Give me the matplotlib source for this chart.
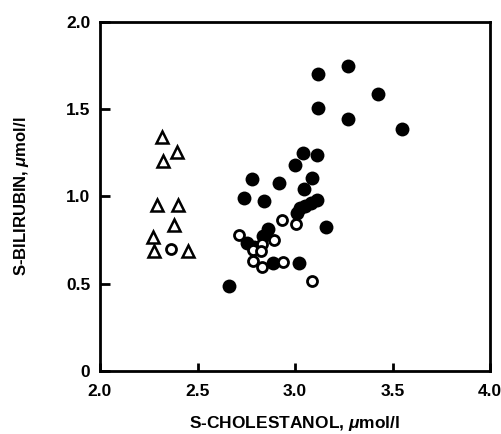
import matplotlib
matplotlib.use("Agg")
import matplotlib.pyplot as plt

plt.rcParams['font.family'] = ['Liberation Sans', 'DejaVu Sans']
plt.rcParams['font.weight'] = 'bold'
plt.rcParams['mathtext.fontset'] = 'custom'
plt.rcParams['mathtext.rm'] = 'Liberation Sans:bold'
plt.rcParams['mathtext.it'] = 'Liberation Sans:italic:bold'
plt.rcParams['mathtext.bf'] = 'Liberation Sans:bold'

# Filled circles
filled_x = [2.662, 2.738, 2.777, 2.843, 2.755, 2.79, 2.838, 2.86, 2.887, 3.018,
            2.917, 3.0, 3.039, 3.111, 3.089, 3.044, 3.12, 3.12, 3.274, 3.274,
            3.424, 3.547, 3.157, 3.009, 3.026, 3.051, 3.08, 3.111]
filled_y = [0.488, 0.991, 1.097, 0.975, 0.735, 0.71, 0.775, 0.815, 0.616, 0.618,
            1.076, 1.177, 1.25, 1.235, 1.107, 1.04, 1.702, 1.504, 1.746, 1.441,
            1.584, 1.382, 0.823, 0.906, 0.93, 0.946, 0.96, 0.976]

# Open circles
open_x = [2.711, 2.935, 3.004, 2.893, 2.829, 2.786, 2.824, 2.783, 2.829, 2.94, 3.088, 2.362]
open_y = [0.78, 0.866, 0.842, 0.749, 0.726, 0.69, 0.688, 0.63, 0.594, 0.625, 0.515, 0.697]

# Open triangles
tri_x = [2.316, 2.393, 2.325, 2.291, 2.398, 2.381, 2.27, 2.277, 2.45]
tri_y = [1.341, 1.251, 1.203, 0.951, 0.951, 0.837, 0.764, 0.688, 0.688]

xticks = [2.0, 2.5, 3.0, 3.5, 4.0]
xticklabels = ["2.0", "2.5", "3.0", "3.5", "4.0"]
yticks = [0, 0.5, 1.0, 1.5, 2.0]
yticklabels = ["0", "0.5", "1.0", "1.5", "2.0"]

fig = plt.figure(figsize=(5.01, 4.34), dpi=100)
ax = fig.add_axes([100/501, 63/434, 390/501, 349.5/434])

ax.plot(filled_x, filled_y, 'o', ms=10, mfc='black', mec='black', mew=0, ls='none', zorder=3)
ax.plot(open_x, open_y, 'o', ms=7.2, mfc='white', mec='black', mew=2.0, ls='none', zorder=4)
ax.plot(tri_x, tri_y, '^', ms=8.0, mfc='white', mec='black', mew=1.8, ls='none', zorder=4)

ax.set_xlim(2.0, 4.0)
ax.set_ylim(0, 2.0)
ax.set_xticks(xticks)
ax.set_xticklabels(xticklabels)
ax.set_yticks(yticks)
ax.set_yticklabels(yticklabels)

for s in ax.spines.values():
    s.set_linewidth(2.0)

ax.tick_params(axis='x', direction='in', length=6, width=2.0, labelsize=12.5, pad=9)
ax.tick_params(axis='y', direction='in', length=7.5, width=2.0, labelsize=12.5, pad=7)
for lab in ax.get_xticklabels() + ax.get_yticklabels():
    lab.set_fontweight('bold')

ax.set_xlabel(r"S-CHOLESTANOL, $\mathit{\mu}$mol/l", fontsize=12.5, fontweight='bold', labelpad=11)
ax.set_ylabel(r"S-BILIRUBIN, $\mathit{\mu}$mol/l", fontsize=12, fontweight='bold', labelpad=25)

fig.savefig("out.png", dpi=100)
